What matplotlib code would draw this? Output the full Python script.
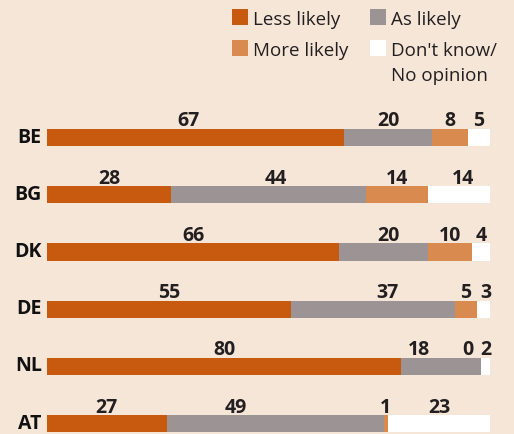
import matplotlib.pyplot as plt
from matplotlib.patches import Rectangle
from matplotlib.transforms import offset_copy

countries = ['BE', 'BG', 'DK', 'DE', 'NL', 'AT']
series = ['Less likely', 'As likely', 'More likely', "Don't know/\nNo opinion"]
less_likely = [67, 28, 66, 55, 80, 27]
as_likely = [20, 44, 20, 37, 18, 49]
more_likely = [8, 14, 10, 5, 0, 1]
dont_know = [5, 14, 4, 3, 2, 23]
values = [less_likely, as_likely, more_likely, dont_know]

colors = ['#C85A0F', '#9C9494', '#D98A4F', '#FFFFFF']
bg = '#F6E6D8'

# label nudges in pixels (row, series) -> dx, to keep numbers from colliding
nudges = {(0, 0): -7, (1, 1): 7, (1, 3): 4, (2, 1): 5, (3, 1): 15, (3, 3): 3,
          (4, 1): -22, (4, 2): -13, (5, 1): -39}

plt.rcParams['font.family'] = ['Open Sans', 'DejaVu Sans']

W, H = 514, 434
fig = plt.figure(figsize=(W / 100, H / 100), dpi=100, facecolor=bg)
ax = fig.add_axes([47 / W, 0, 443 / W, 334 / H])
ax.set_facecolor(bg)
ax.set_xlim(0, 100)
ax.set_ylim(5.18, -0.656)
ax.axis('off')

bar_h = 0.30
for i in range(len(countries)):
    left = 0
    for s in range(len(series)):
        v = values[s][i]
        ax.barh(i, v, left=left, height=bar_h, color=colors[s], linewidth=0)
        dx = nudges.get((i, s), 0) * 0.72
        tr = offset_copy(ax.transData, fig=fig, x=dx, y=1.8, units='points')
        ax.text(left + v / 2, i - bar_h / 2, str(v), transform=tr,
                ha='center', va='baseline', fontsize=14, fontweight='bold',
                color='#231F20')
        left += v
    ax.text(-1.2, i, countries[i], ha='right', va='center', fontsize=14,
            fontweight='bold', color='#111111')

# legend drawn by hand in a 2x2 grid
leg_pos = [(232, 9), (370, 9), (232, 40), (370, 40)]
for (x, y), name, c in zip(leg_pos, series, colors):
    fig.patches.append(Rectangle((x / W, 1 - (y + 16) / H), 16 / W, 16 / H,
                                 transform=fig.transFigure, facecolor=c,
                                 edgecolor='none'))
    for k, line in enumerate(name.split('\n')):
        fig.text((x + 21) / W, 1 - (y + 16 + 25 * k) / H, line, ha='left',
                 va='baseline', fontsize=13.5, color='#231F20')

fig.savefig('out.png', dpi=100, facecolor=bg)
